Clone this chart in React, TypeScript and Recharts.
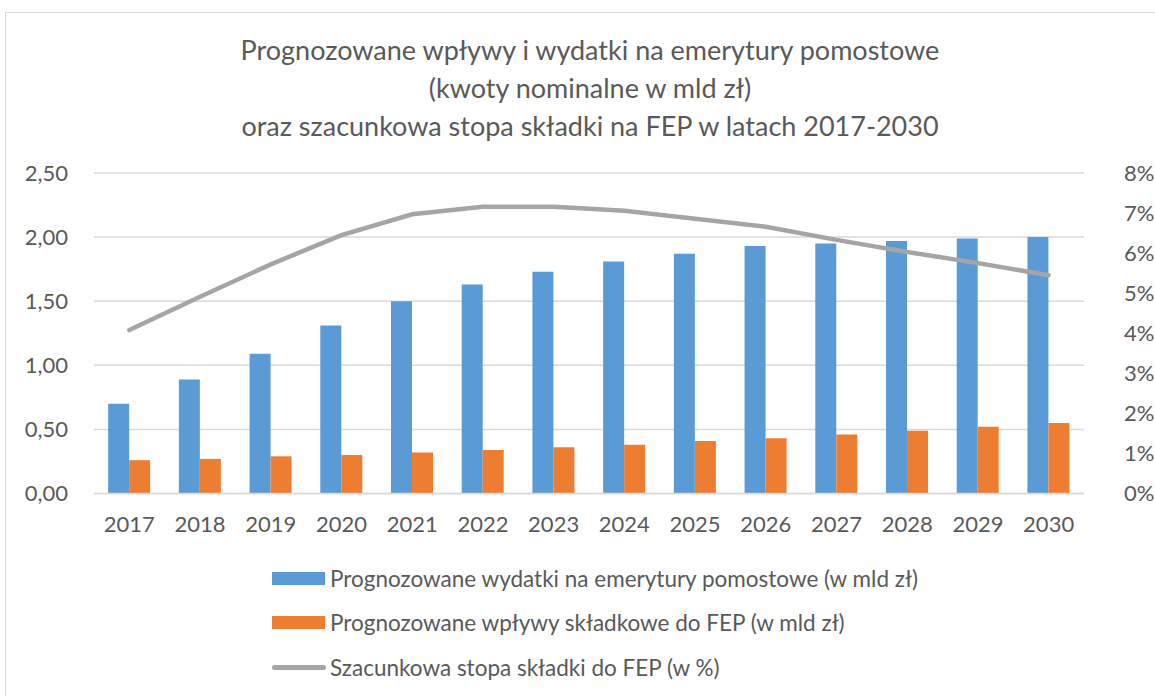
import React from 'react';
import { ComposedChart, Bar, Line, XAxis, YAxis, CartesianGrid, Legend } from 'recharts';

const years = ['2017','2018','2019','2020','2021','2022','2023','2024','2025','2026','2027','2028','2029','2030'];
const expenditures = [0.70, 0.89, 1.09, 1.31, 1.50, 1.63, 1.73, 1.81, 1.87, 1.93, 1.95, 1.97, 1.99, 2.00];
const contributions = [0.26, 0.27, 0.29, 0.30, 0.32, 0.34, 0.36, 0.38, 0.41, 0.43, 0.46, 0.49, 0.52, 0.55];
const rates = [4.08, 4.91, 5.72, 6.45, 6.97, 7.16, 7.16, 7.06, 6.86, 6.66, 6.33, 6.03, 5.75, 5.45];
const leftTicks = [0, 0.5, 1, 1.5, 2, 2.5];
const rightTicks = [0, 1, 2, 3, 4, 5, 6, 7, 8];
const titleLines = [
  'Prognozowane wpływy i wydatki na emerytury pomostowe',
  '(kwoty nominalne w mld zł)',
  'oraz szacunkowa stopa składki na FEP w latach 2017-2030',
];
const seriesNames = [
  'Prognozowane wydatki na emerytury pomostowe (w mld zł)',
  'Prognozowane wpływy składkowe do FEP (w mld zł)',
  'Szacunkowa stopa składki do FEP (w %)',
];
const colors = ['#5B9BD5', '#ED7D31', '#A5A5A5'];

const data = years.map((y, i) => ({
  year: y,
  exp: expenditures[i],
  con: contributions[i],
  rate: rates[i],
}));

const FONT = 'Lato, "Open Sans", sans-serif';
const TXT = '#595959';

const LegendContent = () => (
  <div style={{ fontFamily: FONT, fontSize: 22.5, color: TXT }}>
    {seriesNames.map((n, i) => (
      <div key={n} style={{ display: 'flex', alignItems: 'center', height: 44.5, whiteSpace: 'nowrap' }}>
        {i < 2 ? (
          <div style={{ width: 53, height: 13, background: colors[i], marginRight: 5, flexShrink: 0 }} />
        ) : (
          <div style={{ width: 54, height: 5, background: colors[i], borderRadius: 3, marginRight: 4, flexShrink: 0 }} />
        )}
        <span>{n}</span>
      </div>
    ))}
  </div>
);

export default function App() {
  return (
    <div style={{ position: 'absolute', left: 0, top: 0, width: 1155, height: 696, overflow: 'hidden', background: '#fff' }}>
      <div style={{ position: 'absolute', left: 5, top: 12, width: 1200, height: 800, border: '1px solid #d9d9d9' }} />
      {titleLines.map((t, i) => (
        <div key={i} style={{ position: 'absolute', left: 0, width: 1180, top: 50 + i * 38 - 18, height: 36, lineHeight: '36px', textAlign: 'center', fontFamily: FONT, fontSize: 27, color: TXT, whiteSpace: 'nowrap' }}>
          {t}
        </div>
      ))}
      <div style={{ position: 'absolute', left: 0, top: 0 }}>
        <ComposedChart width={1155} height={696} data={data} margin={{ top: 173, right: 0, bottom: 172.5, left: 0 }} barGap={0} barCategoryGap="20%">
          <CartesianGrid yAxisId="left" vertical={false} stroke="#d9d9d9" strokeWidth={1.5} />
          <XAxis dataKey="year" axisLine={{ stroke: '#d9d9d9', strokeWidth: 1.5 }} tickLine={false} height={30}
            tick={{ fill: TXT, fontSize: 22, fontFamily: FONT }} tickMargin={17} />
          <YAxis yAxisId="left" domain={[0, 2.5]} ticks={leftTicks} width={94} axisLine={false} tickLine={false}
            tickFormatter={(v: number) => v.toFixed(2).replace('.', ',')}
            tick={{ fill: TXT, fontSize: 22, fontFamily: FONT }} tickMargin={20} />
          <YAxis yAxisId="right" orientation="right" domain={[0, 8]} ticks={rightTicks} width={71} axisLine={false} tickLine={false}
            tickFormatter={(v: number) => `${v}%`}
            tick={{ fill: TXT, fontSize: 22, fontFamily: FONT }} tickMargin={34} />
          <Bar yAxisId="left" dataKey="exp" name={seriesNames[0]} fill={colors[0]} isAnimationActive={false} />
          <Bar yAxisId="left" dataKey="con" name={seriesNames[1]} fill={colors[1]} isAnimationActive={false} />
          <Line yAxisId="right" dataKey="rate" name={seriesNames[2]} stroke={colors[2]} strokeWidth={4.5} dot={false} strokeLinecap="round" isAnimationActive={false} />
          <Legend layout="vertical" align="center" verticalAlign="middle" content={<LegendContent />}
            wrapperStyle={{ position: 'absolute', left: 272, top: 556, width: 800 }} />
        </ComposedChart>
      </div>
    </div>
  );
}
